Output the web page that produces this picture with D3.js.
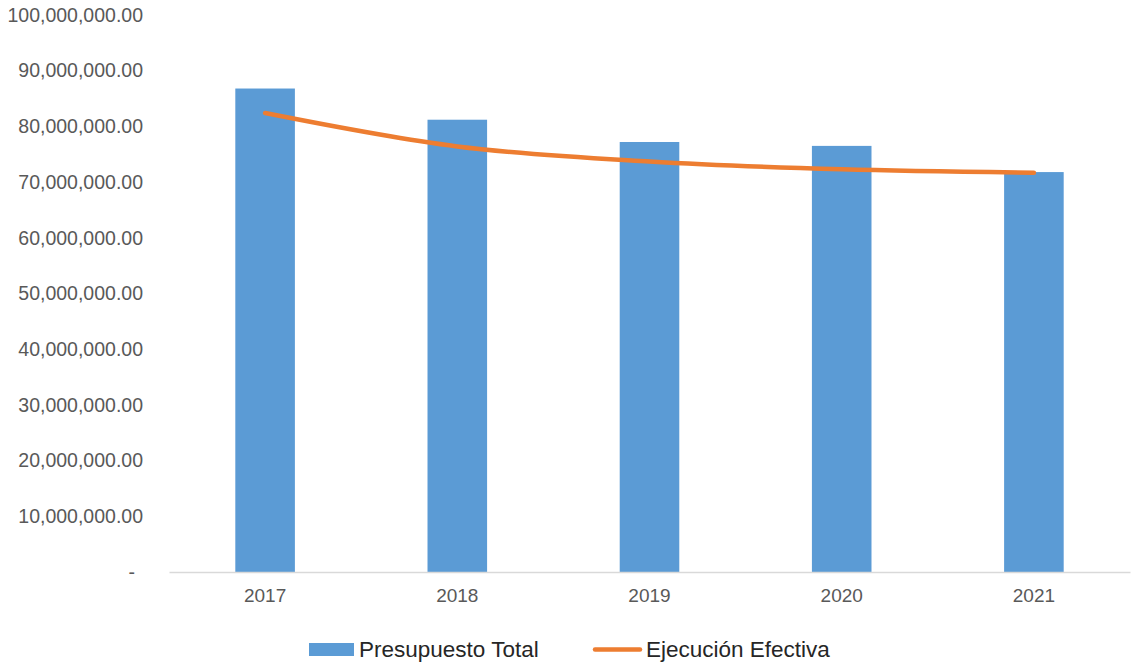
<!DOCTYPE html>
<html>
<head>
<meta charset="utf-8">
<script src="https://cdn.jsdelivr.net/npm/d3@7"></script>
<style>
  body { margin: 0; background: #fff; }
  .axis text { font-family: 'Liberation Sans', Arial, sans-serif; fill: #595959; }
</style>
</head>
<body>
<svg id="chart" width="1131" height="663"></svg>
<script>
const years = ['2017', '2018', '2019', '2020', '2021'];
const presupuestoTotal = [86800000, 81200000, 77200000, 76500000, 71800000];
const ejecucionEfectiva = [82400000, 76400000, 73700000, 72300000, 71700000];
const yTicks = [0, 10000000, 20000000, 30000000, 40000000, 50000000, 60000000, 70000000, 80000000, 90000000, 100000000];
const seriesNames = ['Presupuesto Total', 'Ejecución Efectiva'];

const svg = d3.select('#chart'),
  margin = {top: 15, right: 1, bottom: 92, left: 169},
  width = +svg.attr('width') - margin.left - margin.right,
  height = +svg.attr('height') - margin.top - margin.bottom,
  g = svg.append('g').attr('transform', 'translate(' + margin.left + ',' + margin.top + ')');

const x = d3.scaleBand().domain(years).range([0, width]).paddingInner(0.69).paddingOuter(0.345);
const y = d3.scaleLinear().domain([0, 100000000]).range([height + 1, 0]);

const fmt = d3.format(',.2f');

// y axis: labels only
const yAxis = g.append('g')
  .attr('class', 'axis axis--y')
  .call(d3.axisLeft(y).tickValues(yTicks).tickSize(0).tickPadding(26)
    .tickFormat(function (d) { return d === 0 ? '-' : fmt(d); }));
yAxis.select('.domain').remove();
yAxis.selectAll('text').style('font-size', '19.5px');
yAxis.selectAll('text').filter(function (d) { return d === 0; }).attr('dx', -8);

// bars
g.selectAll('.bar')
  .data(years)
  .enter().append('rect')
  .attr('class', 'bar')
  .attr('x', function (d) { return x(d); })
  .attr('width', x.bandwidth())
  .attr('y', function (d, i) { return y(presupuestoTotal[i]); })
  .attr('height', function (d, i) { return y(0) - y(presupuestoTotal[i]); })
  .attr('fill', '#5B9BD5');

// x axis
const xAxis = g.append('g')
  .attr('class', 'axis axis--x')
  .attr('transform', 'translate(0,' + y(0) + ')')
  .call(d3.axisBottom(x).tickSize(0).tickPadding(17).tickSizeOuter(0));
xAxis.select('.domain').attr('stroke', '#d9d9d9').attr('stroke-width', 1.3);
xAxis.selectAll('text').style('font-size', '19px');

// smoothed line
const line = d3.line()
  .curve(d3.curveCatmullRom.alpha(0.5))
  .x(function (d, i) { return x(years[i]) + x.bandwidth() / 2; })
  .y(function (d) { return y(d); });

g.append('path')
  .datum(ejecucionEfectiva)
  .attr('class', 'line')
  .attr('fill', 'none')
  .attr('stroke', '#ED7D31')
  .attr('stroke-width', 4.5)
  .attr('stroke-linecap', 'round')
  .attr('d', line);

// legend
const legend = svg.append('g').attr('class', 'legend')
  .style('font-family', "'Liberation Sans', Arial, sans-serif")
  .style('font-size', '22.5px');

legend.append('rect')
  .attr('x', 309).attr('y', 643).attr('width', 45).attr('height', 13)
  .attr('fill', '#5B9BD5');
legend.append('text')
  .attr('x', 359).attr('y', 657)
  .attr('fill', '#262626')
  .text(seriesNames[0]);

legend.append('line')
  .attr('x1', 595).attr('x2', 640).attr('y1', 649.5).attr('y2', 649.5)
  .attr('stroke', '#ED7D31').attr('stroke-width', 4.5).attr('stroke-linecap', 'round');
legend.append('text')
  .attr('x', 646).attr('y', 657)
  .attr('fill', '#262626')
  .text(seriesNames[1]);
</script>
</body>
</html>
